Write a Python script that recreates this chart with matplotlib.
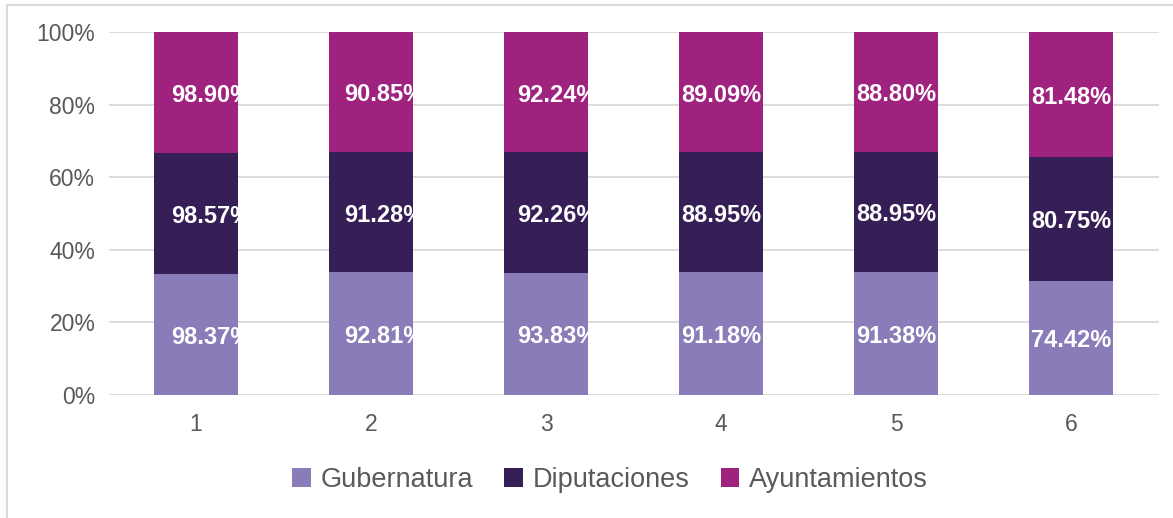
import matplotlib
matplotlib.use("Agg")
import matplotlib.pyplot as plt
import matplotlib.ticker as mticker
import matplotlib.transforms as mtrans
from matplotlib.lines import Line2D
import numpy as np

plt.rcParams["font.family"] = ["Liberation Sans", "DejaVu Sans"]

# --- data -----------------------------------------------------------------
categories = ["1", "2", "3", "4", "5", "6"]
series_names = ["Gubernatura", "Diputaciones", "Ayuntamientos"]
gubernatura = [98.37, 92.81, 93.83, 91.18, 91.38, 74.42]
diputaciones = [98.57, 91.28, 92.26, 88.95, 88.95, 80.75]
ayuntamientos = [98.90, 90.85, 92.24, 89.09, 88.80, 81.48]

COLORS = ["#8a7cb9", "#361e56", "#a0227f"]
GRID = "#d9d9d9"
TEXT = "#595959"
# label start, pixels right of each bar's left edge (mimics the source layout)
LABEL_SHIFT = [17, 15, 13, 2, 2, 2]

W, H = 1173, 518
fig = plt.figure(figsize=(W / 100, H / 100), dpi=100)
ax = fig.add_axes([108.5 / W, 123 / H, 1050 / W, 363 / H])

vals = np.array([gubernatura, diputaciones, ayuntamientos])
shares = vals / vals.sum(axis=0)
x = np.arange(len(categories))
width = 0.48

bottoms = np.zeros(len(categories))
for k, name in enumerate(series_names):
    bars = ax.bar(x, shares[k], width, bottom=bottoms, color=COLORS[k],
                  label=name, zorder=2)
    for i, bar in enumerate(bars):
        tr = mtrans.offset_copy(ax.transData, fig=fig, x=LABEL_SHIFT[i],
                                y=-3, units="dots")
        t = ax.text(x[i] - width / 2, bottoms[i] + shares[k, i] / 2,
                    f"{vals[k, i]:.2f}%", transform=tr, ha="left",
                    va="center", color="white", fontsize=17,
                    fontweight="bold", zorder=3)
        t.set_clip_path(bar)
    bottoms += shares[k]

ax.set_xlim(-0.5, len(categories) - 0.5)
ax.set_ylim(0, 1)
ax.set_xticks(x)
ax.set_xticklabels(categories)
ax.yaxis.set_major_locator(mticker.MultipleLocator(0.2))
ax.yaxis.set_major_formatter(mticker.FuncFormatter(lambda v, _: f"{v * 100:.0f}%"))
ax.grid(axis="y", color=GRID, linewidth=1.3, zorder=0)
ax.set_axisbelow(True)
for s in ax.spines.values():
    s.set_visible(False)
ax.tick_params(axis="y", length=0, pad=9.5, labelsize=16.5, labelcolor=TEXT)
ax.tick_params(axis="x", length=0, pad=13, labelsize=16.5, labelcolor=TEXT)

fig.legend(loc="center", bbox_to_anchor=(610 / W, 38 / H), ncol=3,
           frameon=False, fontsize=19.5, handlelength=0.67, handleheight=0.7,
           handletextpad=0.37, columnspacing=1.15, labelcolor=TEXT)

# outer chart-area border (top and left edges visible)
fig.add_artist(Line2D([7 / W, 1], [1 - 5 / H, 1 - 5 / H], color=GRID, lw=1.5))
fig.add_artist(Line2D([7 / W, 7 / W], [0, 1 - 5 / H], color=GRID, lw=1.5))

fig.savefig("out.png", dpi=100)
